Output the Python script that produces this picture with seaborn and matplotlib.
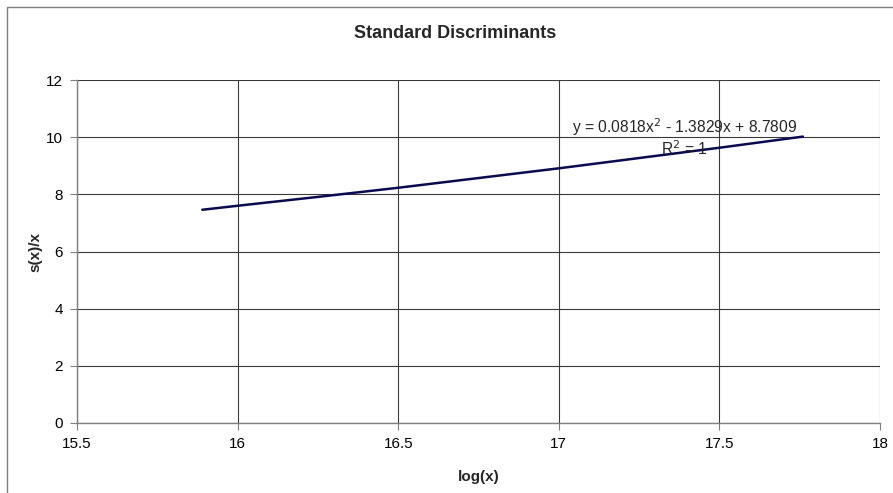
import matplotlib
matplotlib.use("Agg")
import matplotlib.pyplot as plt
import seaborn as sns
import pandas as pd
from matplotlib.patches import Rectangle

log_x = [15.89, 16.0, 16.25, 16.5, 16.75, 17.0, 17.25, 17.5, 17.76]
s_over_x = [7.46, 7.60, 7.91, 8.23, 8.57, 8.91, 9.27, 9.63, 10.02]
x_ticks = [15.5, 16, 16.5, 17, 17.5, 18]
x_tick_labels = ["15.5", "16", "16.5", "17", "17.5", "18"]
y_ticks = [0, 2, 4, 6, 8, 10, 12]

df = pd.DataFrame({"log(x)": log_x, "s(x)/x": s_over_x})

sns.set_theme(style="white")
plt.rcParams["font.family"] = ["Liberation Sans", "DejaVu Sans"]

fig = plt.figure(figsize=(8.93, 4.93), dpi=100)
ax = fig.add_axes([77/893, 1-423/493, (880-77)/893, (423-80)/493])

sns.lineplot(data=df, x="log(x)", y="s(x)/x", ax=ax, color="#0a0a50", linewidth=1.8)

ax.set_xlim(15.5, 18)
ax.set_ylim(0, 12)
ax.set_xticks(x_ticks)
ax.set_xticklabels(x_tick_labels)
ax.set_yticks(y_ticks)
ax.grid(True, color="#3a3a3a", linewidth=0.8)
ax.set_axisbelow(True)
for side in ["top", "right"]:
    ax.spines[side].set_visible(False)
for side in ["left", "bottom"]:
    ax.spines[side].set_color("#7f7f7f")
    ax.spines[side].set_linewidth(1.0)
ax.tick_params(axis="both", which="major", direction="out", length=5, width=0.8,
               color="#7f7f7f", labelsize=11, labelcolor="black", pad=5,
               bottom=True, left=True)
ax.set_xlabel("log(x)", fontsize=11, fontweight="bold", labelpad=14)
ax.set_ylabel("s(x)/x", fontsize=11, fontweight="bold", labelpad=3)

ax.text(17.393, 10.36, "y = 0.0818x$^{2}$ - 1.3829x + 8.7809", fontsize=11.25, ha="center", va="center")
ax.text(17.39, 9.59, "R$^{2}$ = 1", fontsize=11.25, ha="center", va="center")

fig.text(455/893, 1-33/493, "Standard Discriminants", fontsize=13, fontweight="bold", ha="center", va="center")

fig.patches.append(Rectangle((7/893, -0.1), 1.2, 1-7/493+0.1, transform=fig.transFigure,
                             fill=False, edgecolor="#7f7f7f", linewidth=1.0))

fig.savefig("out.png", dpi=100)
